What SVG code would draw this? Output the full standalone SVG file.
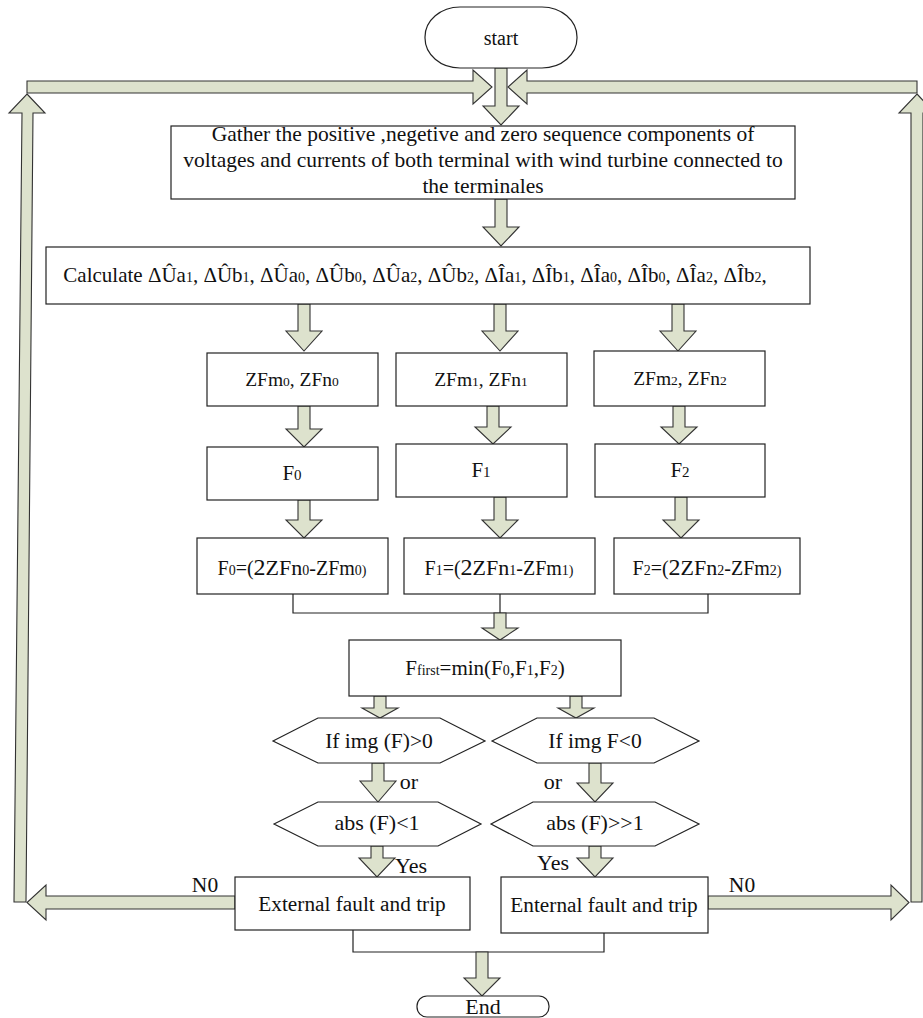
<svg xmlns="http://www.w3.org/2000/svg" width="923" height="1018" viewBox="0 0 923 1018">
<style>
.box{fill:#fff;stroke:#222;stroke-width:1.2}
.arr{fill:#dde2cd;stroke:#333;stroke-width:1.1;stroke-linejoin:miter}
.ln{fill:none;stroke:#222;stroke-width:1.2}
text{font-family:"Liberation Serif","Times New Roman",serif;font-size:21px;fill:#111;text-anchor:middle}
.s{font-size:14px}
.g{font-size:21.5px}
.z{font-size:19.5px}
.zs{font-size:13.5px}
.b{font-size:24px}
.m{font-size:22px}
</style>
<rect width="923" height="1018" fill="#fff"/>
<g id="connectors">
<polygon class="arr" points="495,68 507,68 507,106 519,106 501,125 483,106 495,106"/>
<polygon class="arr" points="27,81 473,81 473,70 492,87 473,104 473,93 27,93"/>
<polygon class="arr" points="917,81 527,81 527,70 508,87 527,104 527,93 917,93"/>
<polygon class="arr" points="27,94 45,113 33,113 26,902 14,902 22,113 9,113"/>
<polygon class="arr" points="917,94 935,113 923,113 922,902 911,902 911,113 899,113"/>
<polygon class="arr" points="235,896 46,896 46,885 27,902.5 46,920 46,909 235,909"/>
<polygon class="arr" points="708,896 891,896 891,885 909,902.5 891,920 891,909 708,909"/>
<polygon class="arr" points="495,199 507,199 507,227 519,227 501,246 483,227 495,227"/>
<polygon class="arr" points="298,304 310,304 310,331 322,331 304,351 286,331 298,331"/>
<polygon class="arr" points="494,304 506,304 506,331 518,331 500,351 482,331 494,331"/>
<polygon class="arr" points="672,304 684,304 684,331 696,331 678,351 660,331 672,331"/>
<polygon class="arr" points="298,406 310,406 310,429 322,429 304,447 286,429 298,429"/>
<polygon class="arr" points="487,406 499,406 499,427 511,427 493,444 475,427 487,427"/>
<polygon class="arr" points="673,406 685,406 685,427 697,427 679,444 661,427 673,427"/>
<polygon class="arr" points="298,500 310,500 310,520 322,520 304,538 286,520 298,520"/>
<polygon class="arr" points="494,497 506,497 506,520 518,520 500,538 482,520 494,520"/>
<polygon class="arr" points="675,497 687,497 687,520 699,520 681,538 663,520 675,520"/>
<polyline class="ln" points="293,594 293,613 708,613 708,594"/>
<line class="ln" x1="500" y1="594" x2="500" y2="613"/>
<polygon class="arr" points="494,613 506,613 506,628 518,628 500,640 482,628 494,628"/>
<polygon class="arr" points="374,696 386,696 386,708 398,708 380,718 362,708 374,708"/>
<polygon class="arr" points="570,696 582,696 582,708 594,708 576,718 558,708 570,708"/>
<polygon class="arr" points="372,763 384,763 384,781 396,781 378,802 360,781 372,781"/>
<polygon class="arr" points="589,763 601,763 601,783 613,783 595,802 577,783 589,783"/>
<polygon class="arr" points="371,846 383,846 383,858 395,858 377,877 359,858 371,858"/>
<polygon class="arr" points="589,846 601,846 601,858 613,858 595,877 577,858 589,858"/>
<polyline class="ln" points="353,930 353,952 604,952 604,933"/>
<polygon class="arr" points="476,952 488,952 488,978 500,978 482,996 464,978 476,978"/>
</g>
<g id="start"><rect class="box" x="425" y="7" width="152" height="61" rx="35" ry="30"/><text x="501" y="45" style="font-size:20px">start</text></g>
<g id="gather"><rect class="box" x="171" y="126" width="624" height="73"/>
<text class="g" x="483" y="141">Gather the positive ,negetive and zero sequence  components of</text>
<text class="g" x="483" y="167">voltages and currents of both terminal with wind turbine connected to</text>
<text class="g" x="483" y="193">the terminales</text></g>
<g id="calc"><rect class="box" x="46" y="247" width="764" height="57"/>
<text x="415" y="282">Calculate ΔÛa<tspan class="s">1</tspan>, ΔÛb<tspan class="s">1</tspan>, ΔÛa<tspan class="s">0</tspan>, ΔÛb<tspan class="s">0</tspan>, ΔÛa<tspan class="s">2</tspan>, ΔÛb<tspan class="s">2</tspan>, ΔÎa<tspan class="s">1</tspan>, ΔÎb<tspan class="s">1</tspan>, ΔÎa<tspan class="s">0</tspan>, ΔÎb<tspan class="s">0</tspan>, ΔÎa<tspan class="s">2</tspan>, ΔÎb<tspan class="s">2</tspan>,</text></g>
<g id="zf0"><rect class="box" x="207" y="353" width="171" height="53"/><text class="z" x="292" y="386">ZFm<tspan class="zs">0</tspan>, ZFn<tspan class="zs">0</tspan></text></g>
<g id="zf1"><rect class="box" x="396" y="353" width="171" height="53"/><text class="z" x="481" y="386">ZFm<tspan class="zs">1</tspan>, ZFn<tspan class="zs">1</tspan></text></g>
<g id="zf2"><rect class="box" x="594" y="351" width="171" height="55"/><text class="z" x="680" y="385">ZFm<tspan class="zs">2</tspan>, ZFn<tspan class="zs">2</tspan></text></g>
<g id="f0"><rect class="box" x="207" y="447" width="171" height="53"/><text x="292" y="480">F<tspan style="font-size:15px">0</tspan></text></g>
<g id="f1"><rect class="box" x="396" y="444" width="171" height="53"/><text x="481" y="477">F<tspan style="font-size:15px">1</tspan></text></g>
<g id="f2"><rect class="box" x="595" y="444" width="170" height="53"/><text x="680" y="477">F<tspan style="font-size:15px">2</tspan></text></g>
<g id="fe0"><rect class="box" x="197" y="538" width="191" height="56"/><text style="font-size:20px" x="292" y="575">F<tspan class="s">0</tspan>=(<tspan class="b">2</tspan><tspan class="m">ZFn</tspan><tspan class="s">0</tspan>-ZFm<tspan class="s">0)</tspan></text></g>
<g id="fe1"><rect class="box" x="404" y="538" width="191" height="56"/><text style="font-size:20px" x="499" y="575">F<tspan class="s">1</tspan>=(<tspan class="b">2</tspan><tspan class="m">ZFn</tspan><tspan class="s">1</tspan>-ZFm<tspan class="s">1)</tspan></text></g>
<g id="fe2"><rect class="box" x="614" y="538" width="186" height="56"/><text style="font-size:20px" x="707" y="575">F<tspan class="s">2</tspan>=(<tspan class="b">2</tspan><tspan class="m">ZFn</tspan><tspan class="s">2</tspan>-ZFm<tspan class="s">2)</tspan></text></g>
<g id="ffirst"><rect class="box" x="349" y="640" width="272" height="56"/><text x="485" y="675">F<tspan class="s">first</tspan>=min(F<tspan class="s">0</tspan>,F<tspan class="s">1</tspan>,F<tspan class="s">2</tspan>)</text></g>
<g id="hex1"><polygon class="box" points="273,741 318,718 440,718 485,741 440,763 318,763"/><text style="font-size:21.5px" x="379" y="748">If img (F)&gt;0</text></g>
<g id="hex2"><polygon class="box" points="492,741 537,718 654,718 699,741 654,763 537,763"/><text style="font-size:21.5px" x="595" y="748">If img F&lt;0</text></g>
<g id="hex3"><polygon class="box" points="274,824 318,802 438,802 481,824 438,846 318,846"/><text class="m" x="377" y="830">abs (F)&lt;1</text></g>
<g id="hex4"><polygon class="box" points="491,824 533,802 655,802 699,824 655,846 533,846"/><text class="m" x="595" y="830">abs (F)&gt;&gt;1</text></g>
<g id="labels">
<text class="m" x="409" y="789">or</text>
<text class="m" x="553" y="789">or</text>
<text class="m" x="411" y="873">Yes</text>
<text class="m" x="553" y="870">Yes</text>
<text style="font-size:21.5px" x="205" y="892">N0</text>
<text style="font-size:21.5px" x="742" y="892">N0</text>
</g>
<g id="external"><rect class="box" x="235" y="877" width="235" height="53"/><text style="font-size:21.3px" x="352" y="911">External fault and trip</text></g>
<g id="enternal"><rect class="box" x="501" y="877" width="207" height="56"/><text style="font-size:21.3px" x="604" y="912">Enternal fault and trip</text></g>
<g id="end"><rect class="box" x="417" y="996" width="132" height="21" rx="10" ry="10"/><text class="m" x="483" y="1014">End</text></g>
</svg>
